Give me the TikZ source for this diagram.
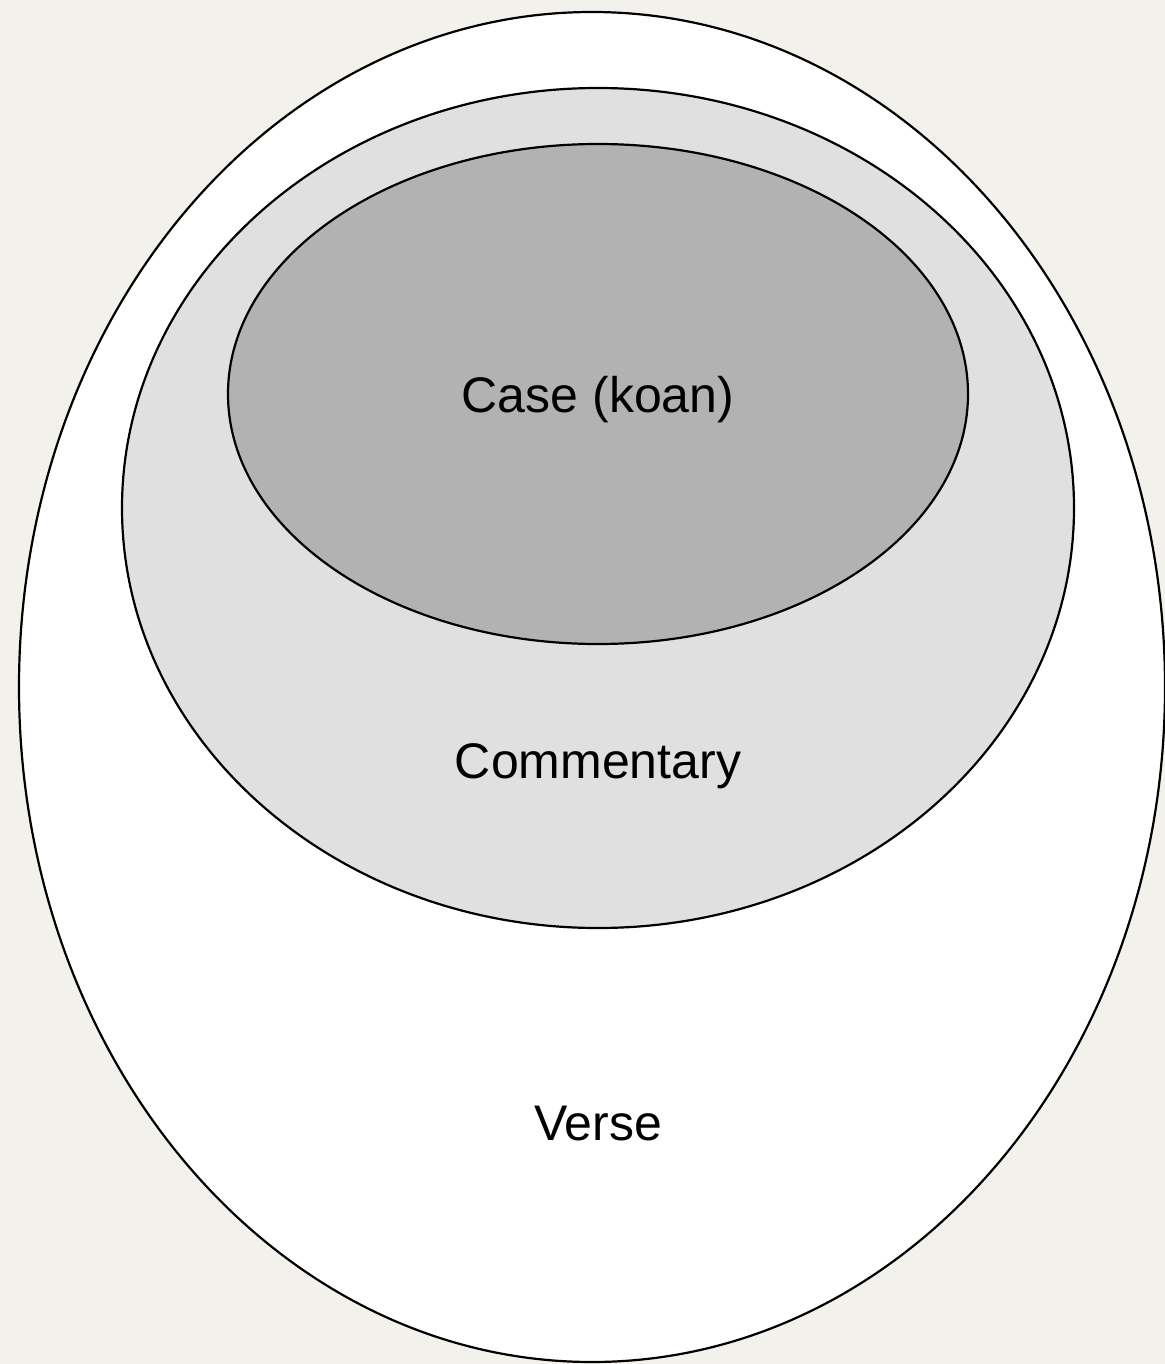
\documentclass[tikz,border=0pt]{standalone}
\usepackage{fontspec}
\setmainfont{Liberation Sans}
\usetikzlibrary{positioning}

\begin{document}
\begin{tikzpicture}[x=0.5pt,y=-0.5pt]
	\definecolor{PageColor}{RGB}{243,241,236}
	\definecolor{MidColor}{RGB}{224,224,224}
	\definecolor{CoreColor}{RGB}{178,178,178}
	\def \OutX {592}
	\def \OutY {687}
	\def \MidY {508}
	\def \CoreY {394}
	\tikzset{ring/.style={draw=black, line width=1.1pt},
		lbl/.style={black, font=\fontsize{25}{30}\selectfont}}
	
	\fill [PageColor] (0,0) rectangle (1165,1364);
	\useasboundingbox (0,0) rectangle (1165,1364);
	
	\draw [ring, fill=white] (\OutX,\OutY) ellipse [x radius=573, y radius=675];
	\draw [ring, fill=MidColor] (598,\MidY) ellipse [x radius=476, y radius=420];
	\draw [ring, fill=CoreColor] (598,\CoreY) ellipse [x radius=370, y radius=250];
	
	\node[lbl](caseText) at (598,400){Case (koan)};
	\node[lbl](commentText) at (598,766){Commentary};
	\node[lbl](verseText) at (598,1124){Verse};
	
\end{tikzpicture}
\end{document}
